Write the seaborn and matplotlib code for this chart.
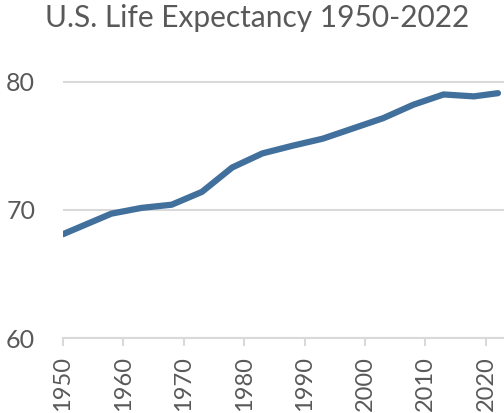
import matplotlib
matplotlib.use("Agg")
import matplotlib.pyplot as plt
import seaborn as sns
import pandas as pd

years = [1950, 1958, 1963, 1968, 1973, 1978, 1983, 1988, 1993, 1998, 2003, 2008, 2013, 2018, 2022]
life_expectancy = [68.1, 69.7, 70.15, 70.4, 71.4, 73.3, 74.4, 75.0, 75.55, 76.35, 77.15, 78.2, 79.0, 78.85, 79.1]
x_ticks = [1950, 1960, 1970, 1980, 1990, 2000, 2010, 2020]
y_ticks = [60, 70, 80]
title = "U.S. Life Expectancy 1950-2022"

df = pd.DataFrame({"Year": years, "Life expectancy": life_expectancy})

sns.set_theme(style="white")
plt.rcParams["font.family"] = ["Lato", "DejaVu Sans"]

text_color = "#595959"
grid_color = "#d9d9d9"
line_color = "#41709c"

fig = plt.figure(figsize=(5.04, 4.13), dpi=100)
ax = fig.add_axes([63/504, 75/413, 1 - 63/504, (338 - 56)/413])

sns.lineplot(data=df, x="Year", y="Life expectancy", ax=ax, color=line_color,
             linewidth=4.5, solid_capstyle="round", solid_joinstyle="round", zorder=3)

ax.set_xlim(1950, 2023)
ax.set_ylim(60, 82)
ax.set_xticks(x_ticks)
ax.set_yticks(y_ticks)
ax.set_xticklabels([str(t) for t in x_ticks], rotation=90, fontsize=17,
                   color=text_color, fontweight="normal")
ax.set_yticklabels([str(t) for t in y_ticks], fontsize=18, color=text_color,
                   fontweight="normal")
ax.set_xlabel("")
ax.set_ylabel("")

for s in ["left", "right", "top"]:
    ax.spines[s].set_visible(False)
ax.spines["bottom"].set_color(grid_color)
ax.spines["bottom"].set_linewidth(1.5)

ax.yaxis.grid(True, color=grid_color, linewidth=1.5)
ax.xaxis.grid(False)
ax.set_axisbelow(True)
ax.tick_params(axis="x", which="major", bottom=True, length=6, width=1.5,
               color=grid_color, pad=7)
ax.tick_params(axis="y", which="major", left=False, length=0, pad=20)

fig.text(0.51, 0.99, title, ha="center", va="top", fontsize=21.5,
         color=text_color, fontweight="normal")

fig.savefig("out.png", dpi=100)
